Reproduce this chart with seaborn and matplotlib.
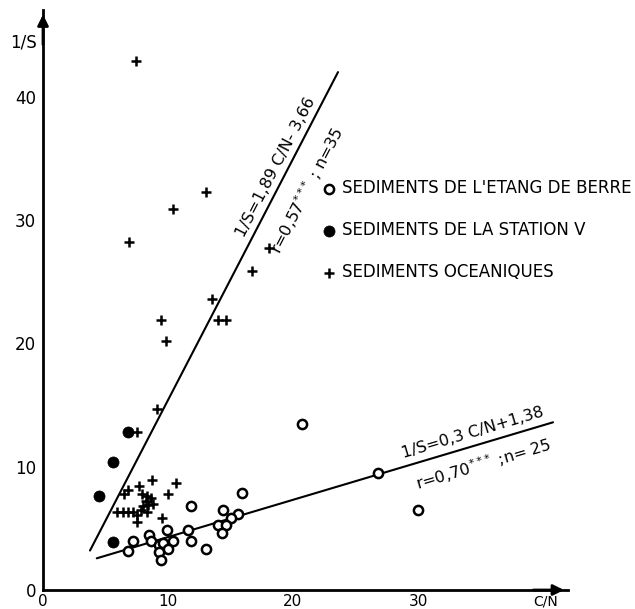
import numpy as np
import pandas as pd
import matplotlib
matplotlib.use("Agg")
import matplotlib.pyplot as plt
import seaborn as sns

# ---- data ----
berre_cn = [7.2, 6.8, 8.5, 8.6, 9.3, 9.6, 9.9, 10.4, 10.0, 9.3, 9.4, 11.8, 11.6,
            11.8, 13.0, 14.4, 15.6, 15.0, 14.0, 14.6, 14.3, 15.9, 20.7, 26.8, 30.0]
berre_is = [4.0, 3.2, 4.5, 4.0, 3.65, 3.8, 4.9, 4.0, 3.3, 3.05, 2.4, 6.8, 4.9,
            4.0, 3.3, 6.5, 6.2, 5.8, 5.3, 5.3, 4.6, 7.9, 13.5, 9.5, 6.5]

station_cn = [6.8, 5.6, 4.5, 5.6]
station_is = [12.8, 10.4, 7.6, 3.9]

ocean_cn = [7.4, 13.0, 10.4, 6.9, 18.1, 16.7, 13.5, 9.4, 14.0, 14.6, 9.8, 9.1, 7.5,
            8.7, 10.6, 10.0, 6.8, 6.5, 7.7, 7.9, 8.3, 8.6, 8.8, 8.4, 8.0, 7.8,
            8.3, 5.9, 6.4, 6.8, 7.2, 7.5, 7.5, 9.5, 8.2]
ocean_is = [42.9, 32.3, 30.9, 28.2, 27.7, 25.9, 23.6, 21.9, 21.9, 21.9, 20.2, 14.7, 12.8,
            8.9, 8.7, 7.8, 8.1, 7.8, 8.4, 7.8, 7.6, 7.5, 7.0, 6.9, 6.8, 6.5,
            6.35, 6.3, 6.3, 6.3, 6.3, 6.1, 5.5, 5.8, 7.2]

line1_cn = [3.76, 23.6]
line1_is = [3.2, 42.0]
line2_cn = [4.3, 40.8]
line2_is = [2.57, 13.6]

x_ticks = [0, 10, 20, 30]
y_ticks = [0, 10, 20, 30, 40]

labels = ["SEDIMENTS DE L'ETANG DE BERRE", "SEDIMENTS DE LA STATION V",
          "SEDIMENTS OCEANIQUES"]

df = pd.concat([
    pd.DataFrame({"cn": berre_cn, "is": berre_is, "grp": labels[0]}),
    pd.DataFrame({"cn": station_cn, "is": station_is, "grp": labels[1]}),
    pd.DataFrame({"cn": ocean_cn, "is": ocean_is, "grp": labels[2]}),
])

sns.set_theme(style="white")
plt.rcParams["font.family"] = ["DejaVu Sans"]
plt.rcParams["text.color"] = "black"

W, H = 635, 609
fig = plt.figure(figsize=(W / 100, H / 100), dpi=100)
# x: px = 43 + 12.5*x ; y: py = 590 - 12.33*y
xmin, xmax = 0, 42
ymin, ymax = 0, 47
left = 43 / W
right = (43 + 12.5 * xmax) / W
bottom = (H - 590) / H
top = (H - (590 - 12.33 * ymax)) / H
ax = fig.add_axes([left, bottom, right - left, top - bottom])

sub = df[df.grp == labels[0]]
sns.scatterplot(data=sub, x="cn", y="is", ax=ax, marker="o", s=44,
                facecolor="white", edgecolor="black", linewidth=1.8,
                label=labels[0], zorder=3)
sub = df[df.grp == labels[1]]
sns.scatterplot(data=sub, x="cn", y="is", ax=ax, marker="o", s=64,
                color="black", edgecolor="black", linewidth=0.5,
                label=labels[1], zorder=3)
sub = df[df.grp == labels[2]]
sns.scatterplot(data=sub, x="cn", y="is", ax=ax, marker="+", s=60,
                color="black", linewidth=1.8, label=labels[2], zorder=3)

sns.lineplot(x=line1_cn, y=line1_is, ax=ax, color="black", lw=1.5, zorder=2)
sns.lineplot(x=line2_cn, y=line2_is, ax=ax, color="black", lw=1.5, zorder=2)

ax.set_xlim(xmin, xmax)
ax.set_ylim(ymin, ymax)
for s in ["top", "right"]:
    ax.spines[s].set_visible(False)
for s in ["left", "bottom"]:
    ax.spines[s].set_color("black")
    ax.spines[s].set_linewidth(2)
ax.set_xticks(x_ticks)
ax.set_yticks(y_ticks)
ax.set_xticklabels([str(t) for t in x_ticks])
ax.set_yticklabels([str(t) for t in y_ticks])
ax.tick_params(axis="both", direction="in", length=8, width=1.8, color="black",
               labelsize=12, labelcolor="black")
ax.tick_params(axis="x", pad=3, labelsize=11)
ax.tick_params(axis="y", pad=5)
ax.set_xlabel("")
ax.set_ylabel("")
ax.grid(False)

# arrow heads on axes
ax.annotate("", xy=(41.9, 0), xytext=(39, 0),
            arrowprops=dict(arrowstyle="-|>", color="black", lw=2,
                            mutation_scale=16), annotation_clip=False)
ax.annotate("", xy=(0, 46.9), xytext=(0, 44),
            arrowprops=dict(arrowstyle="-|>", color="black", lw=2,
                            mutation_scale=16), annotation_clip=False)

ax.text(-1.6, 44.4, "1/S", ha="center", va="center", fontsize=12,
        clip_on=False)
ax.text(40.2, -0.4, "C/N", ha="center", va="top", fontsize=10,
        clip_on=False)

ax.text(18.6, 34.3, "1/S=1,89 C/N- 3,66", rotation=62.6, ha="center",
        va="center", fontsize=11.5, rotation_mode="anchor")
ax.text(21.15, 32.4, r"r=0,57$^{\!*\!*\!*}$ ; n=35", rotation=62.6, ha="center",
        va="center", fontsize=11.5, rotation_mode="anchor")
ax.text(34.4, 12.75, "1/S=0,3 C/N+1,38", rotation=16.6, ha="center",
        va="center", fontsize=11.5, rotation_mode="anchor")
ax.text(35.2, 10.2, r"r=0,70$^{\!*\!*\!*}$ ;n= 25", rotation=16.6, ha="center",
        va="center", fontsize=11.5, rotation_mode="anchor")

leg = ax.legend(loc="upper left", bbox_to_anchor=(322 / W, 1 - 179 / H),
                bbox_transform=fig.transFigure, frameon=False, fontsize=12,
                handlelength=0.8, handletextpad=0.4, labelspacing=1.45,
                borderaxespad=0, borderpad=0)
for t in leg.get_texts():
    t.set_color("black")

fig.savefig("out.png", dpi=100)
